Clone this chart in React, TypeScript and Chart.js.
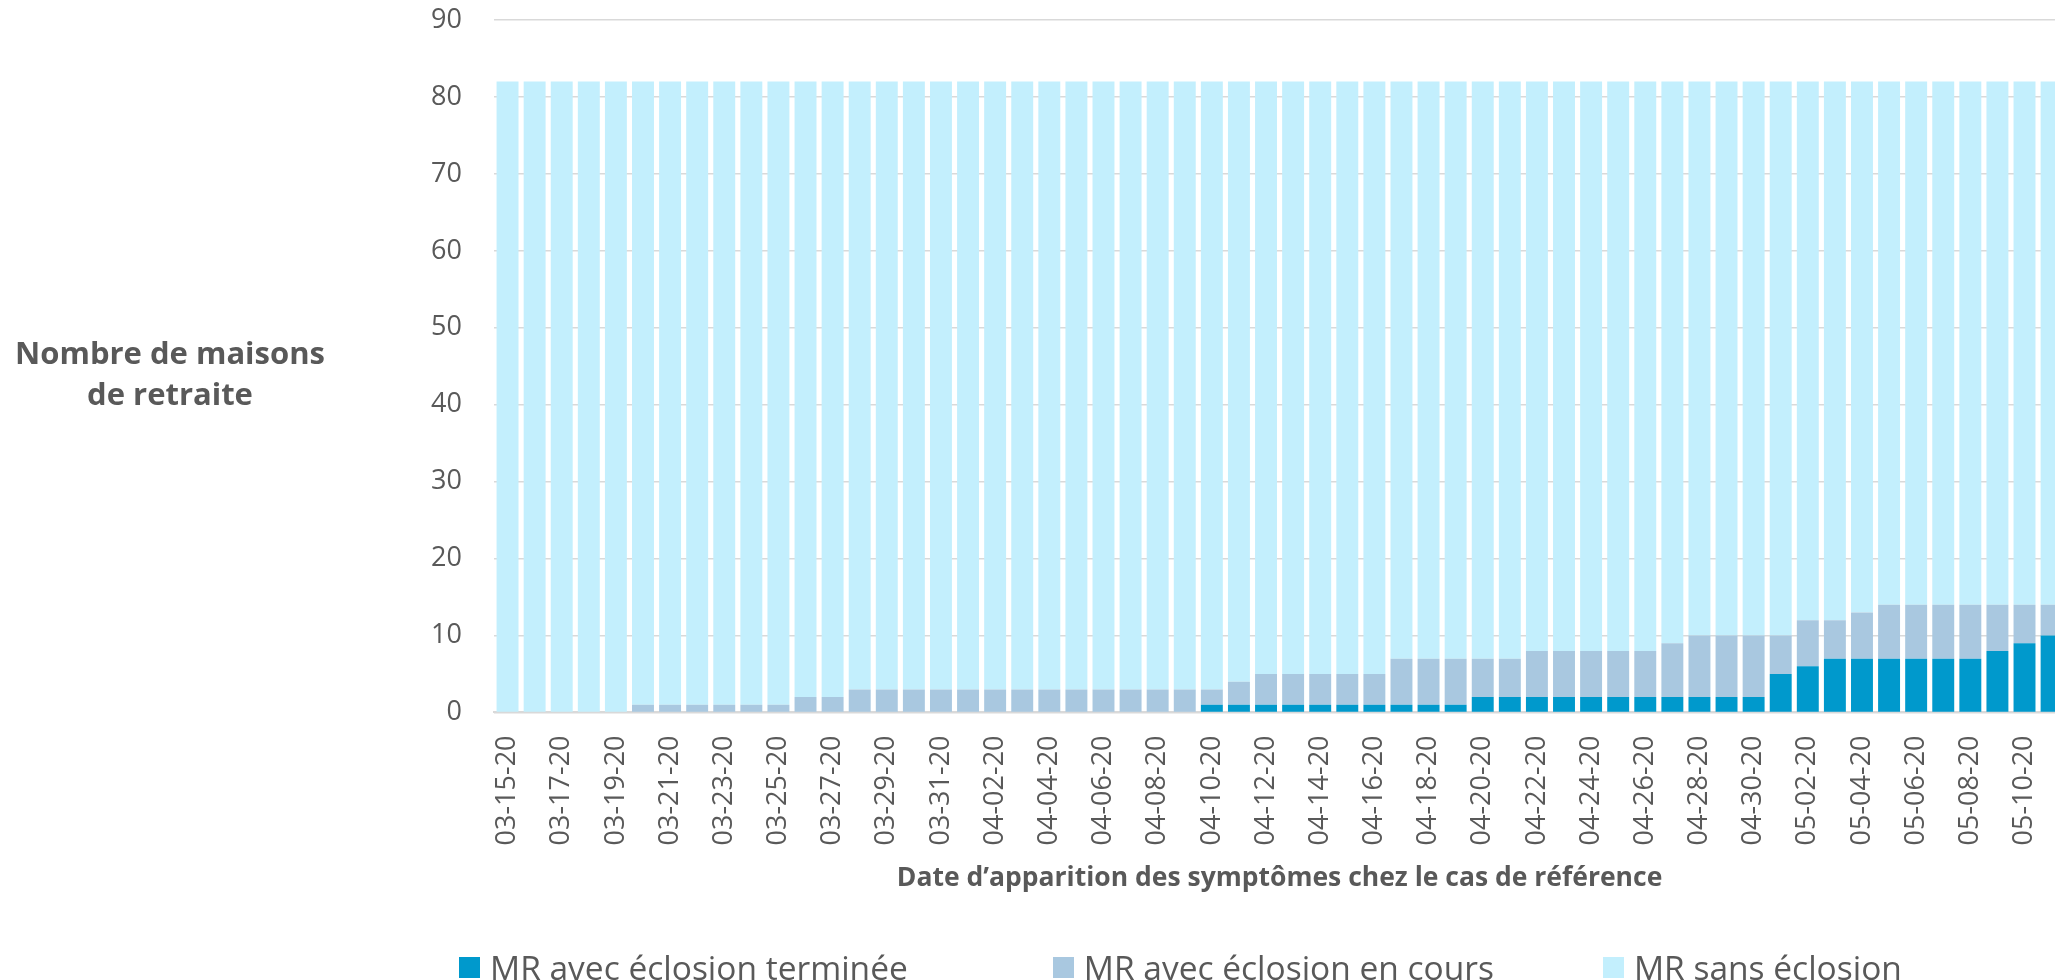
import React, { useEffect, useRef } from "react";
import { Chart, registerables } from "chart.js";

Chart.register(...registerables);

const dates = [
  "03-15-20", "03-16-20", "03-17-20", "03-18-20", "03-19-20", "03-20-20", "03-21-20", "03-22-20",
  "03-23-20", "03-24-20", "03-25-20", "03-26-20", "03-27-20", "03-28-20", "03-29-20", "03-30-20",
  "03-31-20", "04-01-20", "04-02-20", "04-03-20", "04-04-20", "04-05-20", "04-06-20", "04-07-20",
  "04-08-20", "04-09-20", "04-10-20", "04-11-20", "04-12-20", "04-13-20", "04-14-20", "04-15-20",
  "04-16-20", "04-17-20", "04-18-20", "04-19-20", "04-20-20", "04-21-20", "04-22-20", "04-23-20",
  "04-24-20", "04-25-20", "04-26-20", "04-27-20", "04-28-20", "04-29-20", "04-30-20", "05-01-20",
  "05-02-20", "05-03-20", "05-04-20", "05-05-20", "05-06-20", "05-07-20", "05-08-20", "05-09-20",
  "05-10-20", "05-11-20",
];

const termineeValues = [
  0, 0, 0, 0, 0, 0, 0, 0, 0, 0,
  0, 0, 0, 0, 0, 0, 0, 0, 0, 0,
  0, 0, 0, 0, 0, 0, 1, 1, 1, 1,
  1, 1, 1, 1, 1, 1, 2, 2, 2, 2,
  2, 2, 2, 2, 2, 2, 2, 5, 6, 7,
  7, 7, 7, 7, 7, 8, 9, 10,
];

const enCoursValues = [
  0, 0, 0, 0, 0, 1, 1, 1, 1, 1,
  1, 2, 2, 3, 3, 3, 3, 3, 3, 3,
  3, 3, 3, 3, 3, 3, 2, 3, 4, 4,
  4, 4, 4, 6, 6, 6, 5, 5, 6, 6,
  6, 6, 6, 7, 8, 8, 8, 5, 6, 5,
  6, 7, 7, 7, 7, 6, 5, 4,
];

const sansValues = [
  82, 82, 82, 82, 82, 81, 81, 81, 81, 81,
  81, 80, 80, 79, 79, 79, 79, 79, 79, 79,
  79, 79, 79, 79, 79, 79, 79, 78, 77, 77,
  77, 77, 77, 75, 75, 75, 75, 75, 74, 74,
  74, 74, 74, 73, 72, 72, 72, 72, 70, 70,
  69, 68, 68, 68, 68, 68, 68, 68,
];

const seriesNames = ["MR avec éclosion terminée", "MR avec éclosion en cours", "MR sans éclosion"];
const seriesColors = ["#0099CC", "#A9C8E0", "#C3EFFD"];
const legendGaps = [145, 109, 0];
const yTitleLines = ["Nombre de maisons", "de retraite"];
const xTitle = "Date d’apparition des symptômes chez le cas de référence";
const yMin = 0;
const yMax = 90;
const yStep = 10;

const TEXT = "#595959";
const FONT = "'Open Sans', sans-serif";

const yTitlePlugin = {
  id: "yTitle",
  afterDraw(chart: any) {
    const { ctx, chartArea } = chart;
    const mid = (chartArea.top + chartArea.bottom) / 2;
    ctx.save();
    ctx.font = `bold 31px ${FONT}`;
    ctx.fillStyle = TEXT;
    ctx.textAlign = "center";
    ctx.textBaseline = "alphabetic";
    ctx.fillText(yTitleLines[0], 170, mid - 2);
    ctx.fillText(yTitleLines[1], 170, mid + 39);
    ctx.restore();
  },
};

export default function App() {
  const ref = useRef<HTMLCanvasElement | null>(null);

  useEffect(() => {
    if (!ref.current) return;
    const chart = new Chart(ref.current, {
      type: "bar",
      data: {
        labels: dates,
        datasets: [
          { label: seriesNames[0], data: termineeValues, backgroundColor: seriesColors[0] },
          { label: seriesNames[1], data: enCoursValues, backgroundColor: seriesColors[1] },
          { label: seriesNames[2], data: sansValues, backgroundColor: seriesColors[2] },
        ].map((d) => ({ ...d, barPercentage: 0.81, categoryPercentage: 1, borderWidth: 0 })),
      },
      options: {
        responsive: false,
        animation: false,
        layout: { padding: { top: 20, right: 0, bottom: 88, left: 0 } },
        plugins: { legend: { display: false }, tooltip: { enabled: false } },
        scales: {
          x: {
            stacked: true,
            grid: { display: false, drawTicks: false },
            border: { display: true, color: "#d9d9d9", width: 2 },
            ticks: {
              autoSkip: false,
              maxRotation: 90,
              minRotation: 90,
              padding: 23,
              color: TEXT,
              font: { family: FONT, size: 27 },
              callback: (_v: any, i: number) => (i % 2 === 0 ? dates[i] : ""),
            },
            title: {
              display: true,
              text: xTitle,
              color: TEXT,
              font: { family: FONT, size: 26.5, weight: "bold", lineHeight: 1 },
              padding: { top: -3, bottom: 0 },
            },
          },
          y: {
            stacked: true,
            min: yMin,
            max: yMax,
            ticks: { stepSize: yStep, padding: 32, color: TEXT, font: { family: FONT, size: 27 } },
            grid: { color: "#d9d9d9", lineWidth: 1.5, drawTicks: false },
            border: { display: false },
            afterFit: (s: any) => {
              s.width = 494;
              s.paddingTop = 0;
            },
          },
        },
      },
      plugins: [yTitlePlugin],
    } as any);
    return () => chart.destroy();
  }, []);

  return (
    <div
      style={{
        position: "fixed",
        left: 0,
        top: 0,
        width: 2055,
        height: 980,
        overflow: "hidden",
        background: "#fff",
      }}
    >
      <canvas ref={ref} width={2107} height={980} style={{ display: "block" }} />
      <div
        style={{
          position: "absolute",
          left: 459,
          top: 951,
          height: 32,
          display: "flex",
          alignItems: "center",
          fontFamily: FONT,
          fontSize: 33.5,
          color: TEXT,
          whiteSpace: "nowrap",
        }}
      >
        {seriesNames.map((n, i) => (
          <div key={n} style={{ display: "flex", alignItems: "center", marginRight: legendGaps[i] }}>
            <span style={{ width: 21, height: 21, background: seriesColors[i], marginRight: 10, display: "inline-block" }} />
            <span style={{ lineHeight: "32px" }}>{n}</span>
          </div>
        ))}
      </div>
    </div>
  );
}
